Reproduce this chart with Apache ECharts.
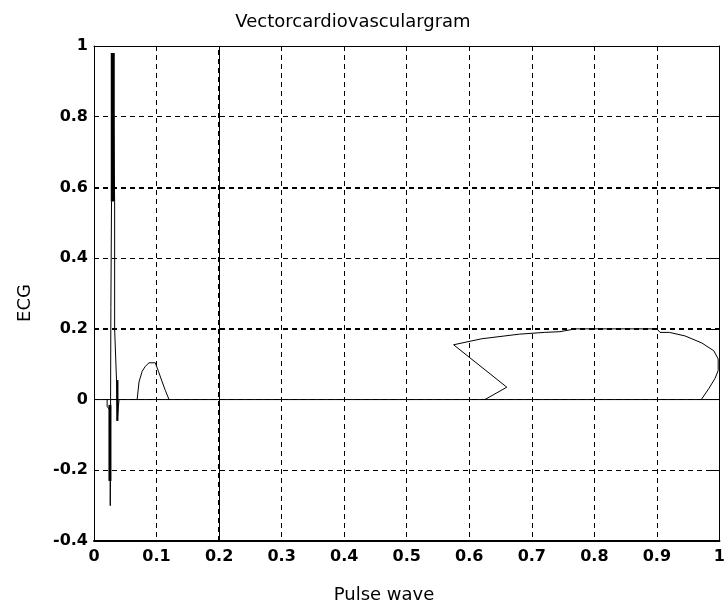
<!DOCTYPE html>
<html>
<head>
<meta charset="utf-8">
<script src="https://cdn.jsdelivr.net/npm/echarts@6/dist/echarts.min.js"></script>
<style>
html,body{margin:0;padding:0;background:#fff;}
#chart{width:728px;height:605px;}
</style>
</head>
<body>
<div id="chart"></div>
<script>
// Tick labels
const xTickLabels = ['0','0.1','0.2','0.3','0.4','0.5','0.6','0.7','0.8','0.9','1'];
const yTickLabels = ['-0.4','-0.2','0','0.2','0.4','0.6','0.8','1'];

// Baseline (ECG = 0)
const baseX = [0, 1];
const baseY = [0, 0];

// QRS complex (thin trace)
const qrsX = [0.021, 0.021, 0.026, 0.026, 0.027, 0.027, 0.028, 0.028, 0.030, 0.030, 0.031, 0.033, 0.033, 0.036, 0.036, 0.037, 0.038, 0.039, 0.040];
const qrsY = [0, -0.02, -0.03, -0.30, -0.30, 0.26, 0.26, 0.56, 0.56, 0.98, 0.98, 0.56, 0.20, 0.20, 0.055, -0.06, -0.06, -0.02, 0];

// QRS dense (thick) segments
const qrsThickAX = [0.030, 0.030];
const qrsThickAY = [0.56, 0.98];
const qrsThickBX = [0.0255, 0.0255];
const qrsThickBY = [-0.015, -0.23];
const qrsThickCX = [0.0375, 0.0375];
const qrsThickCY = [0.055, -0.06];

// P wave
const pWaveX = [0.069, 0.072, 0.077, 0.082, 0.088, 0.098, 0.103, 0.109, 0.114, 0.120];
const pWaveY = [0, 0.05, 0.08, 0.094, 0.104, 0.104, 0.08, 0.05, 0.026, 0];

// T wave loop
const tLoopX = [0.625, 0.66, 0.575, 0.62, 0.68, 0.72, 0.745, 0.77, 0.85, 0.9, 0.905, 0.92, 0.945, 0.972, 0.991, 0.998, 0.998, 0.993, 0.983, 0.971];
const tLoopY = [0, 0.035, 0.155, 0.172, 0.185, 0.19, 0.192, 0.2, 0.2, 0.2, 0.19, 0.19, 0.18, 0.16, 0.138, 0.115, 0.082, 0.06, 0.031, 0];

function pairs(xs, ys) { return xs.map((x, i) => [x, ys[i]]); }

const chart = echarts.init(document.getElementById('chart'), null, {renderer: 'canvas'});
const black = '#000';
const tickFont = {fontFamily: 'DejaVu Sans', fontWeight: 'bold', fontSize: 16, color: black};

function line(data, width) {
  return {
    type: 'line', data: data, showSymbol: false, symbol: 'none', silent: true,
    lineStyle: {color: black, width: width}, animation: false, clip: false
  };
}

const option = {
  animation: false,
  backgroundColor: '#fff',
  grid: {left: 94, right: 0, top: 46, bottom: 64, containLabel: false},
  xAxis: [{
    type: 'value', min: 0, max: 1, interval: 0.1, position: 'bottom',
    axisLine: {show: true, onZero: false, lineStyle: {color: black, width: 2}},
    axisTick: {show: false},
    axisLabel: Object.assign({margin: 8, formatter: v => xTickLabels[Math.round(v * 10)]}, tickFont),
    splitLine: {show: true, lineStyle: {color: black, width: 1, type: [5, 4]}}
  }, {
    type: 'value', min: 0, max: 1, interval: 0.1, position: 'top',
    axisLine: {show: true, onZero: false, lineStyle: {color: black, width: 1}},
    axisTick: {show: false}, axisLabel: {show: false}, splitLine: {show: false}
  }],
  yAxis: [{
    type: 'value', min: -0.4, max: 1, interval: 0.2, position: 'left',
    axisLine: {show: true, onZero: false, lineStyle: {color: black, width: 1}},
    axisTick: {show: false},
    axisLabel: Object.assign({margin: 6, formatter: v => yTickLabels[Math.round((v + 0.4) / 0.2)]}, tickFont),
    splitLine: {show: true, lineStyle: {color: black, width: 1, type: [5, 4]}}
  }, {
    type: 'value', min: -0.4, max: 1, interval: 0.2, position: 'right',
    axisLine: {show: true, onZero: false, lineStyle: {color: black, width: 1}},
    axisTick: {show: true, inside: true, length: 10, lineStyle: {color: black, width: 1}},
    axisLabel: {show: false}, splitLine: {show: false}
  }],
  graphic: [
    {type: 'text', left: null, x: 353, y: 22, style: {text: 'Vectorcardiovasculargram', fontFamily: 'DejaVu Sans', fontSize: 18, fill: black, textAlign: 'center', textVerticalAlign: 'middle'}},
    {type: 'text', x: 25, y: 303, rotation: Math.PI / 2, style: {text: 'ECG', fontFamily: 'DejaVu Sans', fontSize: 18, fill: black, textAlign: 'center', textVerticalAlign: 'middle'}},
    {type: 'text', x: 384, y: 595, style: {text: 'Pulse wave', fontFamily: 'DejaVu Sans', fontSize: 18, fill: black, textAlign: 'center', textVerticalAlign: 'middle'}}
  ],
  series: [
    Object.assign(line(pairs(baseX, baseY), 1), {
      markLine: {
        silent: true, symbol: 'none', label: {show: false},
        lineStyle: {color: black, width: 2, type: [5, 4]},
        data: [{xAxis: 0.2}, {yAxis: 0.6}, {yAxis: 0.2}]
      }
    }),
    line(pairs(qrsX, qrsY), 1),
    line(pairs(qrsThickAX, qrsThickAY), 4),
    line(pairs(qrsThickBX, qrsThickBY), 3),
    line(pairs(qrsThickCX, qrsThickCY), 2),
    line(pairs(pWaveX, pWaveY), 1),
    line(pairs(tLoopX, tLoopY), 1)
  ]
};
chart.setOption(option);
</script>
</body>
</html>
